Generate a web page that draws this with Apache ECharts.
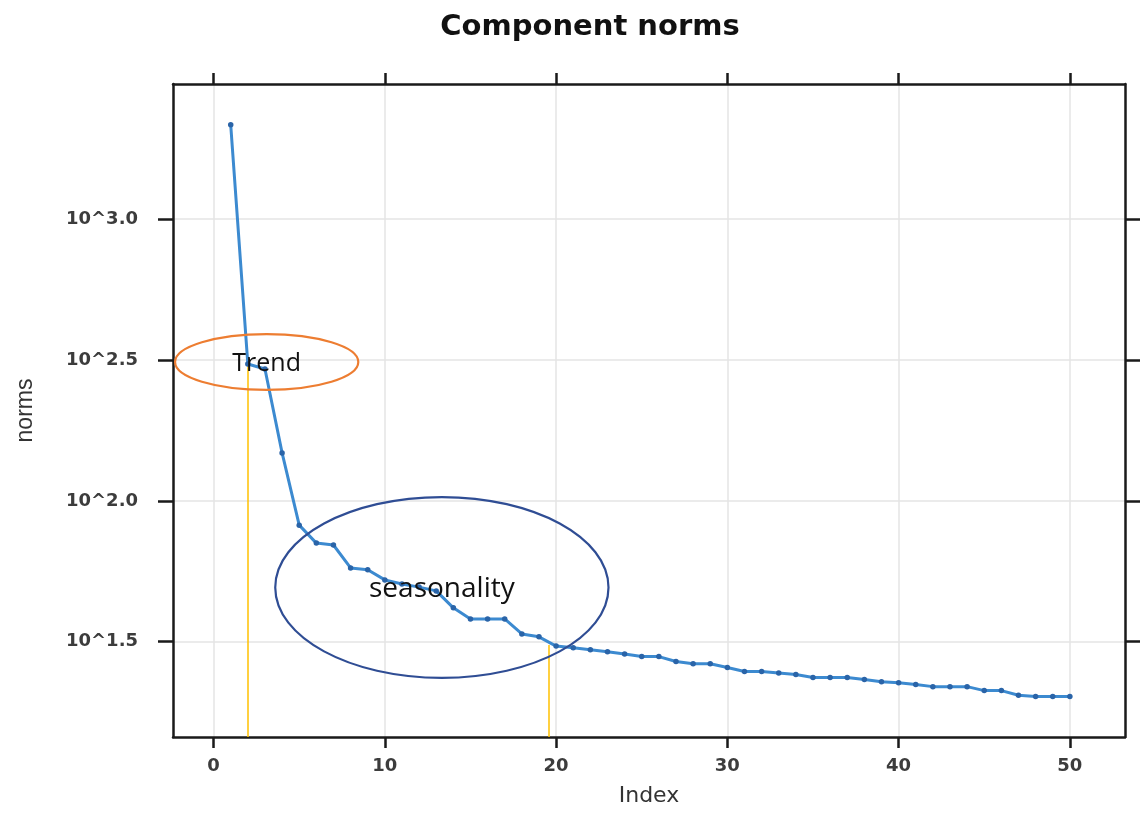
<!DOCTYPE html>
<html>
<head>
<meta charset="utf-8">
<script src="https://cdn.jsdelivr.net/npm/echarts@6/dist/echarts.min.js"></script>
<style>
html,body{margin:0;padding:0;background:#fff;}
#main{width:1146px;height:813px;}
</style>
</head>
<body>
<div id="main"></div>
<script>
// Component index
const indices = [1,2,3,4,5,6,7,8,9,10,11,12,13,14,15,16,17,18,19,20,21,22,23,24,25,26,27,28,29,30,31,32,33,34,35,36,37,38,39,40,41,42,43,44,45,46,47,48,49,50];
// Component norms
const norms = [2163, 306, 294, 148, 82.0, 70.8, 69.7, 57.8, 56.9, 52.4,
  50.7, 49.4, 47.9, 41.7, 38.1, 38.1, 38.1, 33.7, 32.9, 30.5,
  30.1, 29.6, 29.1, 28.6, 28.0, 28.0, 26.9, 26.4, 26.4, 25.6,
  24.8, 24.8, 24.5, 24.2, 23.6, 23.6, 23.6, 23.2, 22.8, 22.6,
  22.3, 21.9, 21.9, 21.9, 21.2, 21.2, 20.4, 20.2, 20.2, 20.2];
// Tick values
const xTicks = [0, 10, 20, 30, 40, 50];
const yTicksLog = [1.5, 2.0, 2.5, 3.0];
// Annotation markers: vertical guide lines at index positions, from log-norm value down
const guideX = [1.97, 19.6];
const guideTop = [2.49, 1.488];
// Annotation ellipses (centre index, centre log-norm, half-width in index units, half-height in log units)
const trendEllipse = {cx: 3.1, cy: 2.493, rx: 5.35, ry: 0.099, label: 'Trend'};
const seasonEllipse = {cx: 13.33, cy: 1.6925, rx: 9.73, ry: 0.321, label: 'seasonality'};

const X_MIN = -2.37, X_MAX = 53.22, Y_MIN = 1.1616, Y_MAX = 3.48;

const chart = echarts.init(document.getElementById('main'), null, {renderer: 'canvas'});
const seriesData = indices.map((x, i) => [x, Math.log10(norms[i])]);

const labelFont = {fontFamily: 'DejaVu Sans', fontSize: 18, fontWeight: 'bold', color: '#3c3c3c'};

const guideData = guideX.map((gx, i) => [
  {coord: [gx, guideTop[i]]},
  {coord: [gx, Y_MIN]}
]);

chart.setOption({
  animation: false,
  backgroundColor: '#ffffff',
  title: {
    text: 'Component norms',
    left: 585, top: 8, textAlign: 'center',
    textStyle: {fontFamily: 'DejaVu Sans', fontWeight: 'bold', fontSize: 29, color: '#111'}
  },
  grid: {left: 173, right: 21, top: 84, bottom: 76, containLabel: false},
  xAxis: [{
    type: 'value', min: X_MIN, max: X_MAX, position: 'bottom',
    name: 'Index', nameLocation: 'middle', nameGap: 48,
    nameTextStyle: {fontFamily: 'DejaVu Sans', fontSize: 22, color: '#333'},
    axisLine: {show: true, onZero: false, lineStyle: {color: '#1a1a1a', width: 2.5}},
    axisTick: {show: true, length: 11, customValues: xTicks, lineStyle: {color: '#1a1a1a', width: 2.5}},
    axisLabel: Object.assign({customValues: xTicks, margin: 20}, labelFont),
    splitLine: {show: true, lineStyle: {color: '#e4e4e4', width: 1.5}}
  }, {
    type: 'value', min: X_MIN, max: X_MAX, position: 'top',
    axisLine: {show: true, onZero: false, lineStyle: {color: '#1a1a1a', width: 2.5}},
    axisTick: {show: true, length: 11, customValues: xTicks, lineStyle: {color: '#1a1a1a', width: 2.5}},
    axisLabel: {show: false},
    splitLine: {show: false}
  }],
  yAxis: [{
    type: 'value', min: Y_MIN, max: Y_MAX, position: 'left',
    name: 'norms', nameLocation: 'middle', nameGap: 136,
    nameTextStyle: {fontFamily: 'Liberation Sans Narrow, Liberation Sans', fontSize: 23, color: '#333'},
    axisLine: {show: true, onZero: false, lineStyle: {color: '#1a1a1a', width: 2.5}},
    axisTick: {show: true, length: 15, customValues: yTicksLog, lineStyle: {color: '#1a1a1a', width: 2.5}},
    axisLabel: Object.assign({customValues: yTicksLog, margin: 35,
      formatter: v => '10^' + Number(v).toFixed(1)}, labelFont),
    splitLine: {show: true, lineStyle: {color: '#e4e4e4', width: 1.5}}
  }, {
    type: 'value', min: Y_MIN, max: Y_MAX, position: 'right',
    axisLine: {show: true, onZero: false, lineStyle: {color: '#1a1a1a', width: 2.5}},
    axisTick: {show: true, length: 15, customValues: yTicksLog, lineStyle: {color: '#1a1a1a', width: 2.5}},
    axisLabel: {show: false},
    splitLine: {show: false}
  }],
  series: [{
    type: 'line',
    data: seriesData,
    xAxisIndex: 0, yAxisIndex: 0,
    symbol: 'circle', symbolSize: 5.5,
    lineStyle: {color: '#3c8ad0', width: 3},
    itemStyle: {color: '#2a64a8'},
    z: 3,
    markLine: {
      silent: true, symbol: 'none',
      label: {show: false},
      lineStyle: {color: '#ffc000', width: 1.5, type: 'solid'},
      data: guideData,
      z: 2
    }
  }]
});

function ellipseGraphic(e, color, font, fontSize) {
  const c = chart.convertToPixel({gridIndex: 0}, [e.cx, e.cy]);
  const px = chart.convertToPixel({gridIndex: 0}, [e.cx + e.rx, e.cy + e.ry]);
  const rx = Math.abs(px[0] - c[0]);
  const ry = Math.abs(px[1] - c[1]);
  return [{
    type: 'ellipse',
    shape: {cx: c[0], cy: c[1], rx: rx, ry: ry},
    style: {fill: 'none', stroke: color, lineWidth: 2.2},
    z: 10
  }, {
    type: 'text',
    x: c[0], y: c[1] + 2,
    style: {text: e.label, fill: '#111', font: fontSize + 'px ' + font, textAlign: 'center', textVerticalAlign: 'middle'},
    z: 11
  }];
}

chart.setOption({
  graphic: [].concat(
    ellipseGraphic(trendEllipse, '#ed7d31', '"Open Sans"', 25),
    ellipseGraphic(seasonEllipse, '#2f4d94', '"Open Sans"', 28)
  )
});
</script>
</body>
</html>
